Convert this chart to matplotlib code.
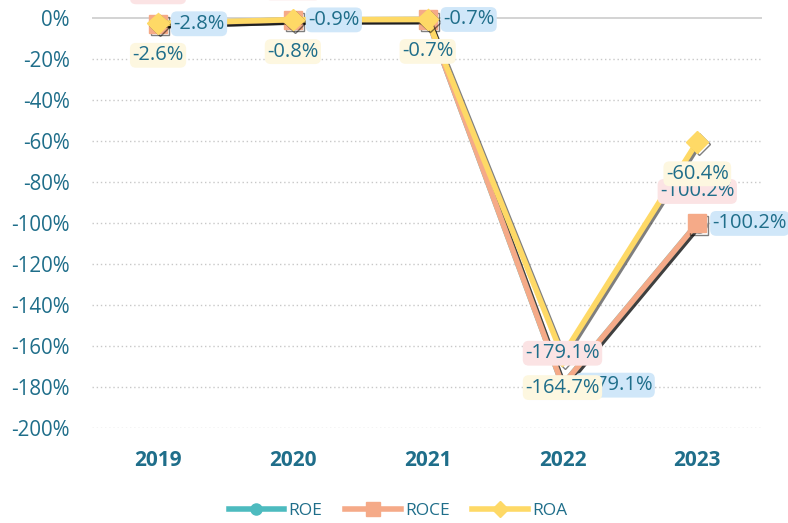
import matplotlib.pyplot as plt
import matplotlib.patheffects as pe
from matplotlib.lines import Line2D

years = ["2019", "2020", "2021", "2022", "2023"]
roe = [-2.8, -0.9, -0.7, -179.1, -100.2]
roce = [-2.8, -0.9, -0.7, -179.1, -100.2]
roa = [-2.6, -0.8, -0.7, -164.7, -60.4]
yticks = [0, -20, -40, -60, -80, -100, -120, -140, -160, -180, -200]

txt_color = "#1f6e8a"
plt.rcParams['font.family'] = ['Open Sans', 'DejaVu Sans']

fig = plt.figure(figsize=(7.88, 5.23), dpi=100)
ax = fig.add_axes([92 / 788, 1 - 428 / 523, (762 - 92) / 788, 428 / 523])

x = list(range(len(years)))
shadow = [pe.SimpleLineShadow(offset=(1.5, -1.5), shadow_color="k", alpha=0.5), pe.Normal()]

# name, values, colour, marker, marker size, label box colour, label offset, ha
series = [
    ("ROE", roe, "#4dbbbf", "o", 11, "#d0e7f9", (11, 0), "left"),
    ("ROCE", roce, "#f5aa88", "s", 13, "#fbe3e4", (0, 23), "center"),
    ("ROA", roa, "#fed966", "D", 11, "#fdf7e0", (0, -23), "center"),
]

z = 3
for name, vals, col, mk, ms, boxcol, off, ha in series:
    ax.plot(x, vals, color=col, lw=4, marker=mk, markersize=ms,
            zorder=z, path_effects=shadow, solid_capstyle="round")
    z += 1

z = 10
for name, vals, col, mk, ms, boxcol, off, ha in series:
    for xi, v in zip(x, vals):
        ax.annotate(f"{v:.1f}%", (xi, v), xytext=off, textcoords="offset points",
                    ha=ha, va="center", fontsize=14.5, color=txt_color, zorder=z,
                    bbox=dict(boxstyle="round,pad=0.12,rounding_size=0.3",
                              fc=boxcol, ec="none"))
    z += 1

ax.set_xlim(-0.49, 4.48)
ax.set_ylim(-200, 8.8)
ax.set_yticks(yticks)
ax.set_yticklabels([f"{t}%" for t in yticks])
ax.set_xticks(x)
ax.set_xticklabels(years, fontweight="bold")
for t in yticks:
    if t == 0:
        ax.axhline(0, color="#cccccc", lw=1.2, zorder=1)
    else:
        ax.axhline(t, color="#c8c8c8", lw=1, ls=(0, (1, 2)), zorder=1)

ax.tick_params(axis="y", length=0, pad=16, labelsize=14.8, labelcolor=txt_color)
ax.tick_params(axis="x", length=0, pad=16, labelsize=15, labelcolor=txt_color)
for s in ax.spines.values():
    s.set_visible(False)

handles = [Line2D([], [], color=c, lw=4, marker=m, markersize=ms - 3)
           for _, _, c, m, ms, *_ in series]
fig.legend(handles, ["ROE", "ROCE", "ROA"], loc="center", bbox_to_anchor=(0.505, 1 - 511 / 523),
           ncol=3, frameon=False, labelcolor=txt_color, fontsize=12.5,
           handlelength=3.2, columnspacing=1.3, handletextpad=0.25)

fig.savefig("out.png", dpi=100)
